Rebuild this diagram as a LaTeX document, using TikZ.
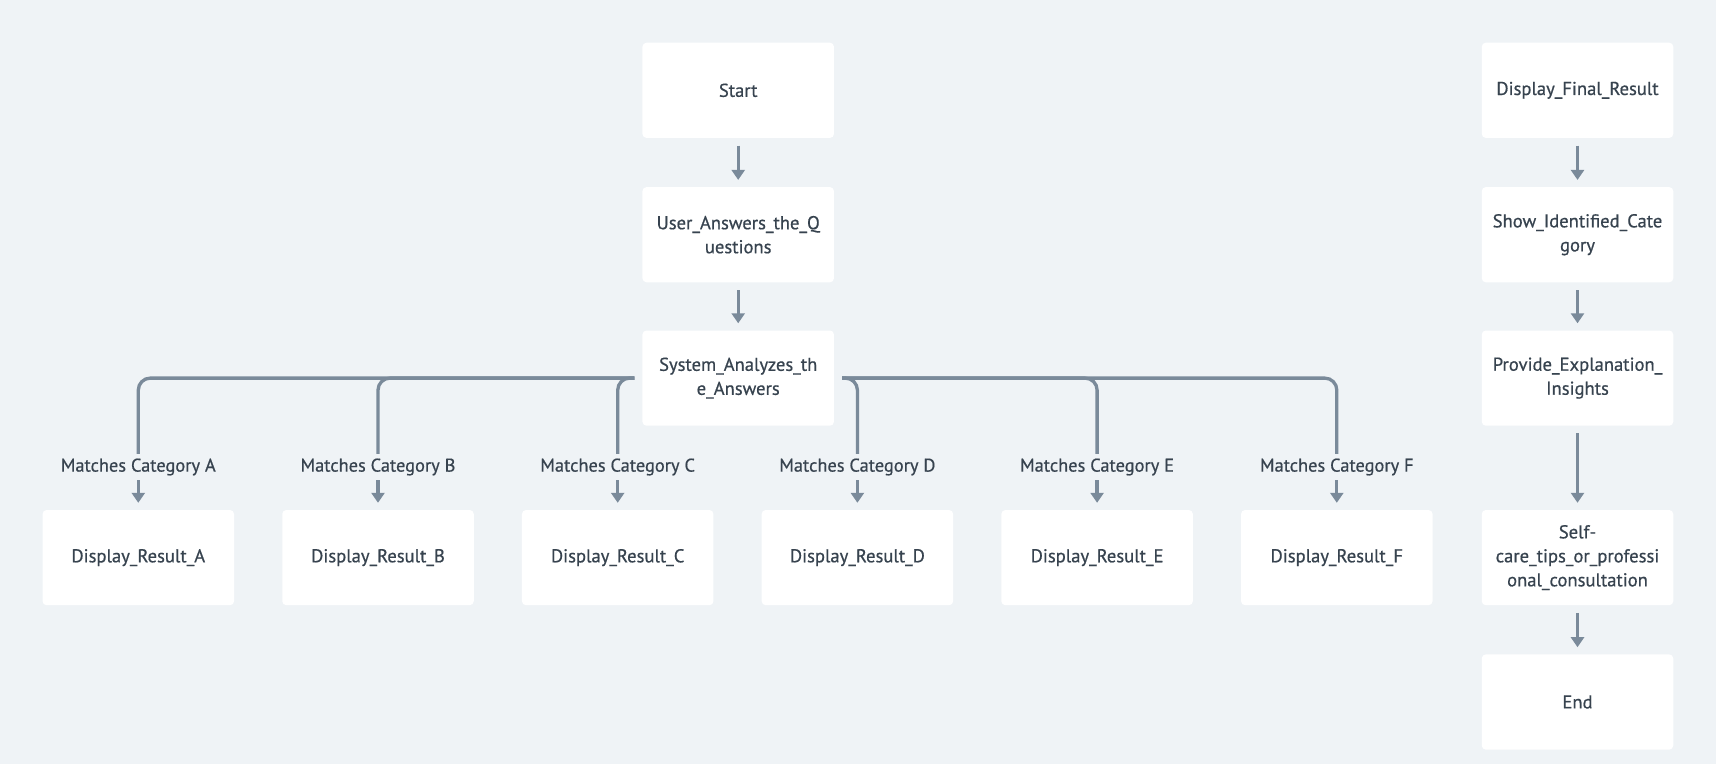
\documentclass[tikz,border=0pt]{standalone}
\usepackage{fontspec}
\setmainfont{PT Sans}[FakeBold=0.6]
\usetikzlibrary{arrows.meta,calc}
\definecolor{bg}{HTML}{EFF3F6}
\definecolor{ln}{HTML}{7A8A9A}
\definecolor{tx}{HTML}{37434F}
\begin{document}
\begin{tikzpicture}[x=1pt,y=-1pt,
  box/.style={rectangle,fill=white,rounded corners=4pt,minimum width=191.5pt,minimum height=95.2pt,align=center,inner sep=2pt,text=tx,font=\fontsize{18.6}{24}\selectfont},
  lab/.style={rectangle,fill=bg,inner sep=0pt,minimum height=26pt,text=tx,font=\fontsize{18.4}{24}\selectfont},
  conn/.style={draw=ln,line width=3.3pt},
  arr/.style={conn,-{Triangle[width=13pt,length=10pt]},shorten >=7pt},
  branch/.style={conn,rounded corners=12pt}]
\fill[bg] (0,0) rectangle (1716,764);
\useasboundingbox (0,0) rectangle (1716,764);
% main column
\node[box] (start) at (738.2,90.3) {Start};
\node[box] (user) at (738.2,234.7) {User\_Answers\_the\_Q\\uestions};
\node[box] (sys) at (738.2,378.1) {System\_Analyzes\_th\\e\_Answers};
% results
\foreach \n/\x in {A/138.3,B/378.0,C/617.7,D/857.4,E/1097.1,F/1336.8}{
  \node[box] (res\n) at (\x,557.6) {Display\_Result\_\n};
  \node[lab] (lab\n) at (\x,467) {Matches Category \n};
}
% right column
\node[box] (fin) at (1577.5,90.3) {Display\_Final\_Result};
\node[box] (show) at (1577.5,234.7) {Show\_Identified\_Cate\\gory};
\node[box] (prov) at (1577.5,378.1) {Provide\_Explanation\_\\Insights};
\node[box] (self) at (1577.5,557.6) {Self-\\care\_tips\_or\_professi\\onal\_consultation};
\node[box] (end) at (1577.5,702.0) {End};
% connectors
\coordinate (sL) at ($(sys.west)+(-8,0)$);
\coordinate (sR) at ($(sys.east)+(8,0)$);
\draw[arr,shorten <=7.5pt] (start) -- (user);
\draw[arr,shorten <=7.5pt] (user) -- (sys);
\foreach \n in {A,B,C}{
  \draw[branch] (sL) -| (lab\n.north);
}
\foreach \n in {D,E,F}{
  \draw[branch] (sR) -| (lab\n.north);
}
\foreach \n in {A,B,C,D,E,F}{
  \draw[arr] (lab\n.south) -- (res\n.north);
}
\draw[arr,shorten <=7.5pt] (fin) -- (show);
\draw[arr,shorten <=7.5pt] (show) -- (prov);
\draw[arr,shorten <=7.5pt] (prov) -- (self);
\draw[arr,shorten <=7.5pt] (self) -- (end);
\end{tikzpicture}
\end{document}
